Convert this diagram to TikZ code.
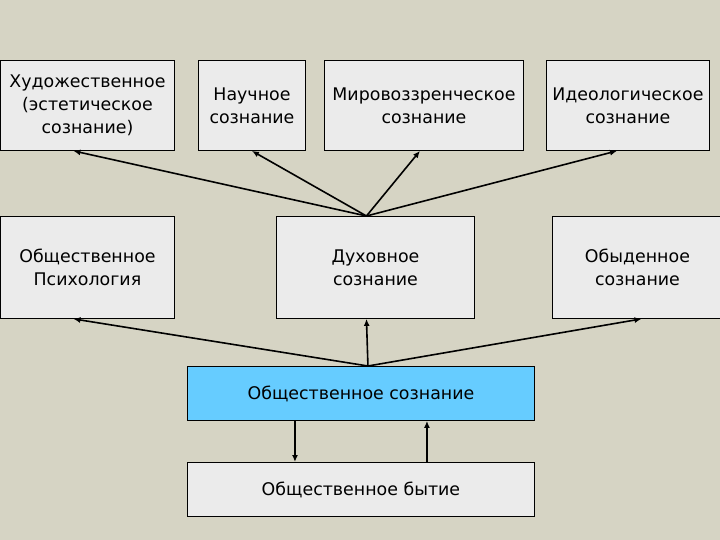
\documentclass[tikz,border=0pt]{standalone}
\usepackage{fontspec}
\setmainfont{DejaVu Sans}
\usetikzlibrary{arrows.meta}
\definecolor{bg}{RGB}{214,212,196}
\definecolor{boxgray}{RGB}{235,235,235}
\definecolor{boxblue}{RGB}{102,204,255}
\begin{document}
\begin{tikzpicture}[x=1pt,y=-1pt,
  box/.style={draw=black, fill=boxgray, line width=0.9pt, inner sep=0pt, align=center,
    anchor=north west, font=\fontsize{17.4}{23}\selectfont},
  conn/.style={line width=1.6pt, -{Latex[length=7pt,width=6pt]}}]
\fill[bg] (0,0) rectangle (720,540);
\useasboundingbox (0,0) rectangle (720,540);
% row 1
\node[box, minimum width=174pt, minimum height=90pt] (A) at (0,60) {Художественное\\(эстетическое\\сознание)};
\node[box, minimum width=107pt, minimum height=90pt] (B) at (198,60) {Научное\\сознание};
\node[box, minimum width=199pt, minimum height=90pt] (C) at (324,60) {Мировоззренческое\\сознание};
\node[box, minimum width=163pt, minimum height=90pt] (D) at (546,60) {Идеологическое\\сознание};
% row 2
\node[box, minimum width=174pt, minimum height=102pt] (E) at (0,216) {Общественное\\Психология};
\node[box, minimum width=198pt, minimum height=102pt] (F) at (276,216) {Духовное\\сознание};
\node[box, minimum width=170pt, minimum height=102pt] (G) at (552,216) {Обыденное\\сознание};
% row 3
\node[box, fill=boxblue, minimum width=347pt, minimum height=54pt] (S) at (187,366) {Общественное сознание};
\node[box, minimum width=347pt, minimum height=54pt] (T) at (187,462) {Общественное бытие};
% hubs
\coordinate (hF) at ([xshift=-9pt]F.north);
\coordinate (hS) at ([xshift=7pt]S.north);
\draw[conn] (hF) -- ([xshift=-14pt]A.south);
\draw[conn] (hF) -- (B.south);
\draw[conn] (hF) -- ([xshift=-4pt]C.south);
\draw[conn] (hF) -- ([xshift=-11pt]D.south);
\draw[conn] (hS) -- ([xshift=-14pt]E.south);
\draw[conn] (hS) -- ([xshift=-9pt]F.south);
\draw[conn] (hS) -- ([xshift=4pt]G.south);
\draw[conn] ([xshift=-66pt]S.south) -- ([xshift=-66pt]T.north);
\draw[conn] ([xshift=66pt]T.north) -- ([xshift=66pt]S.south);
\end{tikzpicture}
\end{document}
